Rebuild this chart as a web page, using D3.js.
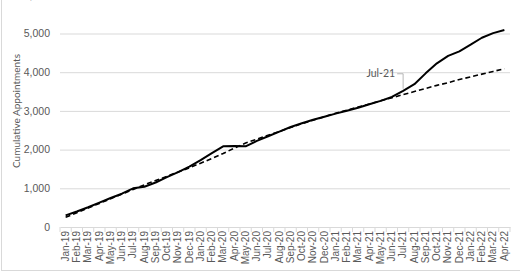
<!DOCTYPE html>
<html>
<head>
<meta charset="utf-8">
<script src="https://cdn.jsdelivr.net/npm/d3@7"></script>
<style>
    body { margin: 0; background: #fff; }
    svg { display: block; font-family: Lato, "Open Sans", sans-serif; }
</style>
</head>
<body>
<div id="chart-area"></div>
<script>

// months on the x axis
var months = ["Jan-19","Feb-19","Mar-19","Apr-19","May-19","Jun-19","Jul-19","Aug-19","Sep-19","Oct-19",
    "Nov-19","Dec-19","Jan-20","Feb-20","Mar-20","Apr-20","May-20","Jun-20","Jul-20","Aug-20",
    "Sep-20","Oct-20","Nov-20","Dec-20","Jan-21","Feb-21","Mar-21","Apr-21","May-21","Jun-21",
    "Jul-21","Aug-21","Sep-21","Oct-21","Nov-21","Dec-21","Jan-22","Feb-22","Mar-22","Apr-22"];

// cumulative appointments (solid line)
var actual = [300, 400, 510, 630, 750, 860, 1000, 1040, 1150, 1290,
    1420, 1560, 1730, 1910, 2085, 2090, 2085, 2225, 2345, 2465,
    2585, 2680, 2770, 2850, 2930, 3005, 3080, 3170, 3260, 3360,
    3520, 3690, 3970, 4230, 4420, 4540, 4710, 4890, 5010, 5090];

// expected trend (dashed line)
var expected = [250, 370, 490, 610, 730, 850, 970, 1090, 1200, 1310,
    1420, 1530, 1650, 1770, 1900, 2040, 2170, 2270, 2370, 2470,
    2570, 2670, 2760, 2850, 2940, 3020, 3100, 3180, 3260, 3340,
    3420, 3500, 3580, 3660, 3730, 3810, 3880, 3950, 4020, 4090];

var yTicks = [0, 1000, 2000, 3000, 4000, 5000, 6000];
var callout = { month: "Jul-21", label: "Jul-21" };


LineChart = function(_parentElement){
    this.parentElement = _parentElement;
    this.initVis();
}

LineChart.prototype.initVis = function(){
    var vis = this;

    vis.margin = { top: 33.5, right: 10, bottom: 45, left: 60 };
    vis.width = 520 - vis.margin.left - vis.margin.right;
    vis.height = 272 - vis.margin.top - vis.margin.bottom;

    vis.root = d3.select("#" + vis.parentElement).append("svg")
        .attr("width", 520)
        .attr("height", 272);

    // chart area border (top and right fall outside the crop)
    vis.root.append("rect")
        .attr("x", 1.5).attr("y", -10)
        .attr("width", 560).attr("height", 280.5)
        .attr("fill", "none")
        .attr("stroke", "#d9d9d9");

    vis.svg = vis.root.append("g")
        .attr("transform", "translate(" + vis.margin.left + "," + vis.margin.top + ")");

    vis.x = d3.scaleBand().domain(months).range([0, vis.width]);
    vis.y = d3.scaleLinear().domain([0, 5000]).range([vis.height, 0]);

    vis.wrangleData();
}

LineChart.prototype.wrangleData = function(){
    var vis = this;
    vis.actual = months.map(function(m, i){ return { month: m, value: actual[i] }; });
    vis.expected = months.map(function(m, i){ return { month: m, value: expected[i] }; });
    vis.updateVis();
}

LineChart.prototype.updateVis = function(){
    var vis = this;
    var grey = "#595959";

    // gridlines + y labels
    var yAxis = d3.axisLeft(vis.y)
        .tickValues(yTicks)
        .tickSize(-vis.width)
        .tickPadding(10)
        .tickFormat(d3.format(","));
    var gy = vis.svg.append("g").call(yAxis);
    gy.select(".domain").remove();
    gy.selectAll(".tick line").attr("stroke", "#d9d9d9")
        .attr("stroke-width", function(d){ return d === 0 ? 0 : 1; });
    gy.selectAll(".tick text").attr("fill", grey).attr("font-size", "10.5px");

    // x axis
    var xAxis = d3.axisBottom(vis.x).tickSize(0).tickPadding(4);
    var gx = vis.svg.append("g")
        .attr("transform", "translate(0," + vis.height + ")")
        .call(xAxis);
    gx.select(".domain").attr("stroke", "#d9d9d9");
    gx.selectAll(".tick text")
        .attr("fill", grey)
        .attr("font-size", "10px")
        .attr("transform", "rotate(-90)")
        .attr("text-anchor", "end")
        .attr("x", -4).attr("y", 0).attr("dy", "0.32em");

    // category boundary ticks
    vis.svg.append("g").selectAll("line")
        .data(months.concat(["end"]))
        .enter().append("line")
        .attr("x1", function(d, i){ return i * vis.x.step(); })
        .attr("x2", function(d, i){ return i * vis.x.step(); })
        .attr("y1", vis.height).attr("y2", vis.height + 5)
        .attr("stroke", "#d9d9d9");

    // axis title
    vis.root.append("text")
        .attr("transform", "translate(20,111) rotate(-90)")
        .attr("text-anchor", "middle")
        .attr("fill", grey)
        .attr("font-size", "10px")
        .text("Cumulative Appointments");

    var line = d3.line()
        .x(function(d){ return vis.x(d.month) + vis.x.bandwidth() / 2; })
        .y(function(d){ return vis.y(d.value); });

    vis.svg.append("path")
        .datum(vis.expected)
        .attr("d", line)
        .attr("fill", "none")
        .attr("stroke", "#000")
        .attr("stroke-width", 1.6)
        .attr("stroke-dasharray", "5,3");

    vis.svg.append("path")
        .datum(vis.actual)
        .attr("d", line)
        .attr("fill", "none")
        .attr("stroke", "#000")
        .attr("stroke-width", 2)
        .attr("stroke-linejoin", "round");

    // callout for Jul-21
    var cx = vis.x(callout.month) + vis.x.bandwidth() / 2;
    var cy = vis.y(actual[months.indexOf(callout.month)]);
    var ly = cy - 17;
    vis.svg.append("path")
        .attr("d", "M" + (cx - 6) + "," + ly + "H" + cx + "V" + (cy - 2))
        .attr("fill", "none")
        .attr("stroke", "#a6a6a6")
        .attr("stroke-width", 0.8);
    vis.svg.append("text")
        .attr("x", cx - 8).attr("y", ly)
        .attr("dy", "0.35em")
        .attr("text-anchor", "end")
        .attr("fill", grey)
        .attr("font-size", "10.5px")
        .text(callout.label);
}

var chart = new LineChart("chart-area");

</script>
</body>
</html>
